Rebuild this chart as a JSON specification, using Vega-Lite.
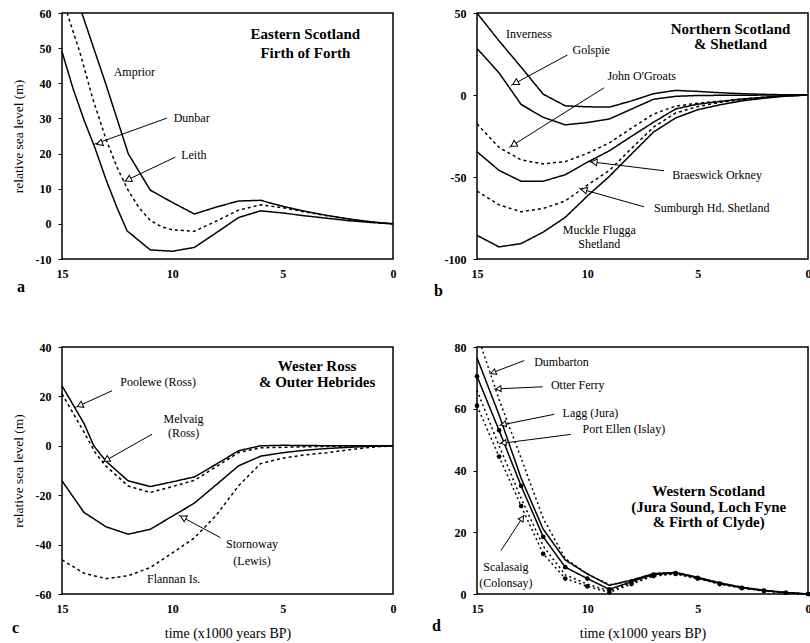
{
  "$schema": "https://vega.github.io/schema/vega-lite/v6.json",
  "padding": {"left": 10, "top": 6, "right": 0, "bottom": 0},
  "background": "white",
  "config": {
    "font": "Liberation Serif",
    "view": {"stroke": "black", "strokeWidth": 1.5},
    "axis": {"grid": false, "domain": false, "labelFont": "Liberation Serif", "labelFontWeight": "bold", "labelFontSize": 12, "labelColor": "black", "tickColor": "black", "labelFlush": false, "labelOverlap": false, "labelBound": false, "titleFont": "Liberation Serif", "titleFontWeight": "normal", "titleFontSize": 14, "titleColor": "black"},
    "axisX": {"ticks": false, "labelPadding": 9, "titlePadding": 12},
    "axisY": {"tickSize": 4, "labelPadding": 7, "titlePadding": 10, "titleFontSize": 13.5},
    "line": {"color": "black", "strokeWidth": 1.5},
    "rule": {"color": "black", "strokeWidth": 1.2},
    "text": {"font": "Liberation Serif", "fontSize": 12, "color": "black"},
    "title": {"font": "Liberation Serif", "fontSize": 16, "fontWeight": "bold", "color": "black"}
  },
  "resolve": {"scale": {"strokeDash": "independent", "x": "independent", "y": "independent"}},
  "datasets": {
    "a_lines": [
      {"site": "Amprior", "t": 14.1, "v": 60}, {"site": "Amprior", "t": 13, "v": 39.5}, {"site": "Amprior", "t": 12, "v": 20}, {"site": "Amprior", "t": 11, "v": 9.6}, {"site": "Amprior", "t": 10, "v": 6.1}, {"site": "Amprior", "t": 9, "v": 2.8}, {"site": "Amprior", "t": 8, "v": 4.8}, {"site": "Amprior", "t": 7, "v": 6.5}, {"site": "Amprior", "t": 6, "v": 6.7}, {"site": "Amprior", "t": 5, "v": 5}, {"site": "Amprior", "t": 4, "v": 3.6}, {"site": "Amprior", "t": 3, "v": 2.4}, {"site": "Amprior", "t": 2, "v": 1.4}, {"site": "Amprior", "t": 1, "v": 0.6}, {"site": "Amprior", "t": 0, "v": 0},
      {"site": "Dunbar", "t": 14.77, "v": 60}, {"site": "Dunbar", "t": 14.2, "v": 49}, {"site": "Dunbar", "t": 13.6, "v": 35.5}, {"site": "Dunbar", "t": 13, "v": 24}, {"site": "Dunbar", "t": 12.5, "v": 16}, {"site": "Dunbar", "t": 12, "v": 9.5}, {"site": "Dunbar", "t": 11.5, "v": 4.5}, {"site": "Dunbar", "t": 11, "v": 1}, {"site": "Dunbar", "t": 10.5, "v": -0.8}, {"site": "Dunbar", "t": 10, "v": -1.7}, {"site": "Dunbar", "t": 9, "v": -2.1}, {"site": "Dunbar", "t": 8, "v": 0.8}, {"site": "Dunbar", "t": 7, "v": 3.9}, {"site": "Dunbar", "t": 6, "v": 5.4}, {"site": "Dunbar", "t": 5, "v": 4.6}, {"site": "Dunbar", "t": 4, "v": 3.4}, {"site": "Dunbar", "t": 3, "v": 2.3}, {"site": "Dunbar", "t": 2, "v": 1.3}, {"site": "Dunbar", "t": 1, "v": 0.5}, {"site": "Dunbar", "t": 0, "v": 0},
      {"site": "Leith", "t": 15, "v": 49}, {"site": "Leith", "t": 14.5, "v": 38.5}, {"site": "Leith", "t": 14, "v": 29.5}, {"site": "Leith", "t": 13.5, "v": 21.5}, {"site": "Leith", "t": 13, "v": 12.5}, {"site": "Leith", "t": 12.5, "v": 4.5}, {"site": "Leith", "t": 12.05, "v": -2}, {"site": "Leith", "t": 11, "v": -7.4}, {"site": "Leith", "t": 10, "v": -7.8}, {"site": "Leith", "t": 9, "v": -6.7}, {"site": "Leith", "t": 8, "v": -2.5}, {"site": "Leith", "t": 7, "v": 1.8}, {"site": "Leith", "t": 6, "v": 3.7}, {"site": "Leith", "t": 5, "v": 3.1}, {"site": "Leith", "t": 4, "v": 2.3}, {"site": "Leith", "t": 3, "v": 1.6}, {"site": "Leith", "t": 2, "v": 0.9}, {"site": "Leith", "t": 1, "v": 0.4}, {"site": "Leith", "t": 0, "v": 0}
    ],
    "a_arrows": [
      {"t": 10.24, "v": 30.1, "t2": 13.56, "v2": 22.6},
      {"t": 9.86, "v": 19.0, "t2": 12.21, "v2": 12.0}
    ],
    "a_heads": [
      {"t": 13.26, "v": 23.0, "ang": 250},
      {"t": 11.96, "v": 12.7, "ang": 244}
    ],
    "a_notes": [
      {"role": "left", "label": "Amprior", "t": 12.66, "v": 43.3},
      {"role": "left", "label": "Dunbar", "t": 9.94, "v": 30.1},
      {"role": "left", "label": "Leith", "t": 9.6, "v": 19.7},
      {"role": "title", "label": "Eastern Scotland", "t": 3.97, "v": 53.9},
      {"role": "title", "label": "Firth of Forth", "t": 3.97, "v": 48.7}
    ],
    "b_lines": [
      {"site": "Inverness", "t": 15, "v": 50}, {"site": "Inverness", "t": 14, "v": 33}, {"site": "Inverness", "t": 13, "v": 17}, {"site": "Inverness", "t": 12, "v": 0.5}, {"site": "Inverness", "t": 11, "v": -6.6}, {"site": "Inverness", "t": 10, "v": -7.2}, {"site": "Inverness", "t": 9, "v": -7.4}, {"site": "Inverness", "t": 8, "v": -3.6}, {"site": "Inverness", "t": 7, "v": 0.8}, {"site": "Inverness", "t": 6, "v": 2.8}, {"site": "Inverness", "t": 5, "v": 2.2}, {"site": "Inverness", "t": 4, "v": 1.4}, {"site": "Inverness", "t": 3, "v": 0.8}, {"site": "Inverness", "t": 2, "v": 0.4}, {"site": "Inverness", "t": 1, "v": 0.1}, {"site": "Inverness", "t": 0, "v": 0},
      {"site": "Golspie", "t": 15, "v": 28.4}, {"site": "Golspie", "t": 14, "v": 13.5}, {"site": "Golspie", "t": 13, "v": -5.8}, {"site": "Golspie", "t": 12, "v": -13.6}, {"site": "Golspie", "t": 11, "v": -18.2}, {"site": "Golspie", "t": 10, "v": -16.8}, {"site": "Golspie", "t": 9, "v": -14.6}, {"site": "Golspie", "t": 8, "v": -8.6}, {"site": "Golspie", "t": 7, "v": -2.6}, {"site": "Golspie", "t": 6, "v": -0.8}, {"site": "Golspie", "t": 5, "v": -0.3}, {"site": "Golspie", "t": 3, "v": -0.1}, {"site": "Golspie", "t": 0, "v": 0},
      {"site": "John O'Groats", "t": 15, "v": -17.6}, {"site": "John O'Groats", "t": 14, "v": -32}, {"site": "John O'Groats", "t": 13, "v": -39.6}, {"site": "John O'Groats", "t": 12, "v": -42}, {"site": "John O'Groats", "t": 11, "v": -40.6}, {"site": "John O'Groats", "t": 10, "v": -35.6}, {"site": "John O'Groats", "t": 9, "v": -29.2}, {"site": "John O'Groats", "t": 8, "v": -20.2}, {"site": "John O'Groats", "t": 7, "v": -11.6}, {"site": "John O'Groats", "t": 6, "v": -6.8}, {"site": "John O'Groats", "t": 5, "v": -5}, {"site": "John O'Groats", "t": 4, "v": -3.8}, {"site": "John O'Groats", "t": 3, "v": -2.5}, {"site": "John O'Groats", "t": 2, "v": -1.4}, {"site": "John O'Groats", "t": 1, "v": -0.5}, {"site": "John O'Groats", "t": 0, "v": 0},
      {"site": "Braeswick Orkney", "t": 15, "v": -34.6}, {"site": "Braeswick Orkney", "t": 14, "v": -46}, {"site": "Braeswick Orkney", "t": 13, "v": -52.6}, {"site": "Braeswick Orkney", "t": 12, "v": -52.6}, {"site": "Braeswick Orkney", "t": 11, "v": -48.6}, {"site": "Braeswick Orkney", "t": 10, "v": -41}, {"site": "Braeswick Orkney", "t": 9, "v": -34}, {"site": "Braeswick Orkney", "t": 8, "v": -25.2}, {"site": "Braeswick Orkney", "t": 7, "v": -16.6}, {"site": "Braeswick Orkney", "t": 6, "v": -8.5}, {"site": "Braeswick Orkney", "t": 5, "v": -5.6}, {"site": "Braeswick Orkney", "t": 4, "v": -4}, {"site": "Braeswick Orkney", "t": 3, "v": -2.5}, {"site": "Braeswick Orkney", "t": 2, "v": -1.4}, {"site": "Braeswick Orkney", "t": 1, "v": -0.5}, {"site": "Braeswick Orkney", "t": 0, "v": 0},
      {"site": "Sumburgh Hd. Shetland", "t": 15, "v": -58.6}, {"site": "Sumburgh Hd. Shetland", "t": 14, "v": -67}, {"site": "Sumburgh Hd. Shetland", "t": 13, "v": -71.2}, {"site": "Sumburgh Hd. Shetland", "t": 12, "v": -69.2}, {"site": "Sumburgh Hd. Shetland", "t": 11, "v": -64.6}, {"site": "Sumburgh Hd. Shetland", "t": 10, "v": -55}, {"site": "Sumburgh Hd. Shetland", "t": 9, "v": -46}, {"site": "Sumburgh Hd. Shetland", "t": 8, "v": -32.6}, {"site": "Sumburgh Hd. Shetland", "t": 7, "v": -19.6}, {"site": "Sumburgh Hd. Shetland", "t": 6, "v": -11}, {"site": "Sumburgh Hd. Shetland", "t": 5, "v": -7}, {"site": "Sumburgh Hd. Shetland", "t": 4, "v": -4.6}, {"site": "Sumburgh Hd. Shetland", "t": 3, "v": -2.8}, {"site": "Sumburgh Hd. Shetland", "t": 2, "v": -1.5}, {"site": "Sumburgh Hd. Shetland", "t": 1, "v": -0.5}, {"site": "Sumburgh Hd. Shetland", "t": 0, "v": 0},
      {"site": "Muckle Flugga Shetland", "t": 15, "v": -85.6}, {"site": "Muckle Flugga Shetland", "t": 14, "v": -92.6}, {"site": "Muckle Flugga Shetland", "t": 13, "v": -90.6}, {"site": "Muckle Flugga Shetland", "t": 12, "v": -83.6}, {"site": "Muckle Flugga Shetland", "t": 11, "v": -74.6}, {"site": "Muckle Flugga Shetland", "t": 10, "v": -61.6}, {"site": "Muckle Flugga Shetland", "t": 9, "v": -49.6}, {"site": "Muckle Flugga Shetland", "t": 8, "v": -36}, {"site": "Muckle Flugga Shetland", "t": 7, "v": -22.6}, {"site": "Muckle Flugga Shetland", "t": 6, "v": -14}, {"site": "Muckle Flugga Shetland", "t": 5, "v": -9}, {"site": "Muckle Flugga Shetland", "t": 4, "v": -6}, {"site": "Muckle Flugga Shetland", "t": 3, "v": -3.6}, {"site": "Muckle Flugga Shetland", "t": 2, "v": -2}, {"site": "Muckle Flugga Shetland", "t": 1, "v": -0.7}, {"site": "Muckle Flugga Shetland", "t": 0, "v": 0}
    ],
    "b_arrows": [
      {"t": 10.9, "v": 24.4, "t2": 13.46, "v2": 5.8},
      {"t": 9.24, "v": 4.4, "t2": 13.54, "v2": -32},
      {"t": 6.52, "v": -46.2, "t2": 9.92, "v2": -40.6},
      {"t": 7.43, "v": -68.2, "t2": 10.37, "v2": -57}
    ],
    "b_heads": [
      {"t": 13.22, "v": 7.6, "ang": 241},
      {"t": 13.31, "v": -30, "ang": 237},
      {"t": 9.65, "v": -41, "ang": 277},
      {"t": 10.11, "v": -58, "ang": 286}
    ],
    "b_notes": [
      {"role": "left", "label": "Inverness", "t": 13.69, "v": 37.4},
      {"role": "left", "label": "Golspie", "t": 10.67, "v": 27.4},
      {"role": "left", "label": "John O'Groats", "t": 9.09, "v": 11.4},
      {"role": "left", "label": "Braeswick Orkney", "t": 6.15, "v": -48.6},
      {"role": "left", "label": "Sumburgh Hd. Shetland", "t": 6.98, "v": -69},
      {"role": "center", "label": "Muckle Flugga", "t": 9.46, "v": -82.6},
      {"role": "center", "label": "Shetland", "t": 9.46, "v": -91},
      {"role": "title", "label": "Northern Scotland", "t": 3.51, "v": 40.4},
      {"role": "title", "label": "& Shetland", "t": 3.51, "v": 31.4}
    ],
    "c_lines": [
      {"site": "Poolewe (Ross)", "t": 15, "v": 24.3}, {"site": "Poolewe (Ross)", "t": 14, "v": 9}, {"site": "Poolewe (Ross)", "t": 13.56, "v": 0}, {"site": "Poolewe (Ross)", "t": 13, "v": -6.3}, {"site": "Poolewe (Ross)", "t": 12, "v": -14.2}, {"site": "Poolewe (Ross)", "t": 11, "v": -16.5}, {"site": "Poolewe (Ross)", "t": 10, "v": -14.6}, {"site": "Poolewe (Ross)", "t": 9, "v": -12.6}, {"site": "Poolewe (Ross)", "t": 8, "v": -7.4}, {"site": "Poolewe (Ross)", "t": 7, "v": -2}, {"site": "Poolewe (Ross)", "t": 6, "v": 0}, {"site": "Poolewe (Ross)", "t": 5, "v": 0.2}, {"site": "Poolewe (Ross)", "t": 4, "v": 0.1}, {"site": "Poolewe (Ross)", "t": 2, "v": 0}, {"site": "Poolewe (Ross)", "t": 0, "v": 0},
      {"site": "Melvaig (Ross)", "t": 15, "v": 21}, {"site": "Melvaig (Ross)", "t": 14, "v": 5.5}, {"site": "Melvaig (Ross)", "t": 13.5, "v": -2.7}, {"site": "Melvaig (Ross)", "t": 13, "v": -8.3}, {"site": "Melvaig (Ross)", "t": 12, "v": -16.3}, {"site": "Melvaig (Ross)", "t": 11, "v": -18.9}, {"site": "Melvaig (Ross)", "t": 10, "v": -16.5}, {"site": "Melvaig (Ross)", "t": 9, "v": -14}, {"site": "Melvaig (Ross)", "t": 8, "v": -8.4}, {"site": "Melvaig (Ross)", "t": 7, "v": -2.7}, {"site": "Melvaig (Ross)", "t": 6, "v": -0.8}, {"site": "Melvaig (Ross)", "t": 4, "v": -0.4}, {"site": "Melvaig (Ross)", "t": 2, "v": -0.1}, {"site": "Melvaig (Ross)", "t": 0, "v": 0},
      {"site": "Stornoway (Lewis)", "t": 15, "v": -14.2}, {"site": "Stornoway (Lewis)", "t": 14, "v": -27}, {"site": "Stornoway (Lewis)", "t": 13, "v": -32.8}, {"site": "Stornoway (Lewis)", "t": 12, "v": -35.8}, {"site": "Stornoway (Lewis)", "t": 11, "v": -33.8}, {"site": "Stornoway (Lewis)", "t": 10, "v": -28.5}, {"site": "Stornoway (Lewis)", "t": 9, "v": -23.2}, {"site": "Stornoway (Lewis)", "t": 8, "v": -15.7}, {"site": "Stornoway (Lewis)", "t": 7, "v": -8.1}, {"site": "Stornoway (Lewis)", "t": 6, "v": -4.2}, {"site": "Stornoway (Lewis)", "t": 5, "v": -2.8}, {"site": "Stornoway (Lewis)", "t": 4, "v": -1.8}, {"site": "Stornoway (Lewis)", "t": 3, "v": -1.1}, {"site": "Stornoway (Lewis)", "t": 2, "v": -0.6}, {"site": "Stornoway (Lewis)", "t": 1, "v": -0.2}, {"site": "Stornoway (Lewis)", "t": 0, "v": 0},
      {"site": "Flannan Is.", "t": 15, "v": -46.2}, {"site": "Flannan Is.", "t": 14, "v": -51.6}, {"site": "Flannan Is.", "t": 13, "v": -53.8}, {"site": "Flannan Is.", "t": 12, "v": -52.6}, {"site": "Flannan Is.", "t": 11, "v": -49.3}, {"site": "Flannan Is.", "t": 10, "v": -43.4}, {"site": "Flannan Is.", "t": 9, "v": -37.3}, {"site": "Flannan Is.", "t": 8, "v": -28}, {"site": "Flannan Is.", "t": 7, "v": -16.2}, {"site": "Flannan Is.", "t": 6, "v": -7.2}, {"site": "Flannan Is.", "t": 5, "v": -5}, {"site": "Flannan Is.", "t": 4, "v": -3.7}, {"site": "Flannan Is.", "t": 3, "v": -2.8}, {"site": "Flannan Is.", "t": 2, "v": -1.6}, {"site": "Flannan Is.", "t": 1, "v": -0.6}, {"site": "Flannan Is.", "t": 0, "v": 0}
    ],
    "c_arrows": [
      {"t": 12.73, "v": 22.3, "t2": 14.4, "v2": 15.5},
      {"t": 10.92, "v": 4.7, "t2": 13.19, "v2": -6.8},
      {"t": 7.82, "v": -37.2, "t2": 9.71, "v2": -28.1}
    ],
    "c_heads": [
      {"t": 14.15, "v": 16.5, "ang": 246},
      {"t": 12.95, "v": -5.5, "ang": 240},
      {"t": 9.47, "v": -29.2, "ang": 298}
    ],
    "c_notes": [
      {"role": "left", "label": "Poolewe (Ross)", "t": 12.36, "v": 25.7},
      {"role": "center", "label": "Melvaig", "t": 9.49, "v": 10.8},
      {"role": "center", "label": "(Ross)", "t": 9.49, "v": 5.1},
      {"role": "center", "label": "Stornoway", "t": 6.39, "v": -39.9},
      {"role": "center", "label": "(Lewis)", "t": 6.39, "v": -46.6},
      {"role": "center", "label": "Flannan Is.", "t": 9.94, "v": -54.1},
      {"role": "title", "label": "Wester Ross", "t": 3.44, "v": 32.4},
      {"role": "title", "label": "& Outer Hebrides", "t": 3.44, "v": 25.7}
    ],
    "d_lines": [
      {"site": "Dumbarton", "t": 14.8, "v": 80}, {"site": "Dumbarton", "t": 14, "v": 63}, {"site": "Dumbarton", "t": 13, "v": 44}, {"site": "Dumbarton", "t": 12, "v": 24.5}, {"site": "Dumbarton", "t": 11, "v": 11.5}, {"site": "Dumbarton", "t": 10, "v": 6.5}, {"site": "Dumbarton", "t": 9, "v": 3}, {"site": "Dumbarton", "t": 8, "v": 4.3}, {"site": "Dumbarton", "t": 7, "v": 6.6}, {"site": "Dumbarton", "t": 6, "v": 6.9}, {"site": "Dumbarton", "t": 5, "v": 5.4}, {"site": "Dumbarton", "t": 4, "v": 3.6}, {"site": "Dumbarton", "t": 3, "v": 2.2}, {"site": "Dumbarton", "t": 2, "v": 1.2}, {"site": "Dumbarton", "t": 1, "v": 0.5}, {"site": "Dumbarton", "t": 0, "v": 0},
      {"site": "Otter Ferry", "t": 15, "v": 76.5}, {"site": "Otter Ferry", "t": 14, "v": 58}, {"site": "Otter Ferry", "t": 13, "v": 37.5}, {"site": "Otter Ferry", "t": 12, "v": 21}, {"site": "Otter Ferry", "t": 11, "v": 11}, {"site": "Otter Ferry", "t": 10, "v": 6.5}, {"site": "Otter Ferry", "t": 9, "v": 2.8}, {"site": "Otter Ferry", "t": 8, "v": 4.5}, {"site": "Otter Ferry", "t": 7, "v": 6.6}, {"site": "Otter Ferry", "t": 6, "v": 7}, {"site": "Otter Ferry", "t": 5, "v": 5.4}, {"site": "Otter Ferry", "t": 4, "v": 3.6}, {"site": "Otter Ferry", "t": 3, "v": 2.2}, {"site": "Otter Ferry", "t": 2, "v": 1.2}, {"site": "Otter Ferry", "t": 1, "v": 0.5}, {"site": "Otter Ferry", "t": 0, "v": 0},
      {"site": "Lagg (Jura)", "t": 15, "v": 70.5}, {"site": "Lagg (Jura)", "t": 14, "v": 53}, {"site": "Lagg (Jura)", "t": 13, "v": 35}, {"site": "Lagg (Jura)", "t": 12, "v": 18.5}, {"site": "Lagg (Jura)", "t": 11, "v": 8.7}, {"site": "Lagg (Jura)", "t": 10, "v": 5}, {"site": "Lagg (Jura)", "t": 9, "v": 1.5}, {"site": "Lagg (Jura)", "t": 8, "v": 4}, {"site": "Lagg (Jura)", "t": 7, "v": 6.3}, {"site": "Lagg (Jura)", "t": 6, "v": 6.8}, {"site": "Lagg (Jura)", "t": 5, "v": 5.2}, {"site": "Lagg (Jura)", "t": 4, "v": 3.4}, {"site": "Lagg (Jura)", "t": 3, "v": 2}, {"site": "Lagg (Jura)", "t": 2, "v": 1.1}, {"site": "Lagg (Jura)", "t": 1, "v": 0.4}, {"site": "Lagg (Jura)", "t": 0, "v": 0},
      {"site": "Port Ellen (Islay)", "t": 15, "v": 66}, {"site": "Port Ellen (Islay)", "t": 14, "v": 48}, {"site": "Port Ellen (Islay)", "t": 13, "v": 31}, {"site": "Port Ellen (Islay)", "t": 12, "v": 15.5}, {"site": "Port Ellen (Islay)", "t": 11, "v": 6.2}, {"site": "Port Ellen (Islay)", "t": 10, "v": 3.2}, {"site": "Port Ellen (Islay)", "t": 9, "v": 1}, {"site": "Port Ellen (Islay)", "t": 8, "v": 3.6}, {"site": "Port Ellen (Islay)", "t": 7, "v": 6}, {"site": "Port Ellen (Islay)", "t": 6, "v": 6.6}, {"site": "Port Ellen (Islay)", "t": 5, "v": 5}, {"site": "Port Ellen (Islay)", "t": 4, "v": 3.3}, {"site": "Port Ellen (Islay)", "t": 3, "v": 2}, {"site": "Port Ellen (Islay)", "t": 2, "v": 1}, {"site": "Port Ellen (Islay)", "t": 1, "v": 0.4}, {"site": "Port Ellen (Islay)", "t": 0, "v": 0},
      {"site": "Scalasaig (Colonsay)", "t": 15, "v": 61}, {"site": "Scalasaig (Colonsay)", "t": 14, "v": 44.5}, {"site": "Scalasaig (Colonsay)", "t": 13, "v": 28.5}, {"site": "Scalasaig (Colonsay)", "t": 12, "v": 13}, {"site": "Scalasaig (Colonsay)", "t": 11, "v": 5}, {"site": "Scalasaig (Colonsay)", "t": 10, "v": 2.5}, {"site": "Scalasaig (Colonsay)", "t": 9, "v": 0.5}, {"site": "Scalasaig (Colonsay)", "t": 8, "v": 3.2}, {"site": "Scalasaig (Colonsay)", "t": 7, "v": 5.8}, {"site": "Scalasaig (Colonsay)", "t": 6, "v": 6.5}, {"site": "Scalasaig (Colonsay)", "t": 5, "v": 5}, {"site": "Scalasaig (Colonsay)", "t": 4, "v": 3.2}, {"site": "Scalasaig (Colonsay)", "t": 3, "v": 1.9}, {"site": "Scalasaig (Colonsay)", "t": 2, "v": 1}, {"site": "Scalasaig (Colonsay)", "t": 1, "v": 0.4}, {"site": "Scalasaig (Colonsay)", "t": 0, "v": 0}
    ],
    "d_arrows": [
      {"t": 12.86, "v": 75.6, "t2": 14.44, "v2": 71.3},
      {"t": 12.03, "v": 67.1, "t2": 14.22, "v2": 66.4},
      {"t": 11.5, "v": 58.2, "t2": 13.99, "v2": 54.6},
      {"t": 10.75, "v": 51.7, "t2": 13.99, "v2": 48.7},
      {"t": 13.91, "v": 14.1, "t2": 12.86, "v2": 25.6}
    ],
    "d_heads": [
      {"t": 14.23, "v": 71.8, "ang": 249},
      {"t": 13.99, "v": 66.5, "ang": 267},
      {"t": 13.76, "v": 55.0, "ang": 259},
      {"t": 13.76, "v": 49.0, "ang": 263},
      {"t": 12.98, "v": 24.3, "ang": 34}
    ],
    "d_notes": [
      {"role": "left", "label": "Dumbarton", "t": 12.41, "v": 75.1},
      {"role": "left", "label": "Otter Ferry", "t": 11.65, "v": 67.8},
      {"role": "left", "label": "Lagg (Jura)", "t": 11.12, "v": 58.5},
      {"role": "left", "label": "Port Ellen (Islay)", "t": 10.22, "v": 53.6},
      {"role": "center", "label": "Scalasaig", "t": 13.69, "v": 8.7},
      {"role": "center", "label": "(Colonsay)", "t": 13.69, "v": 3.6},
      {"role": "title", "label": "Western Scotland", "t": 4.5, "v": 33.4},
      {"role": "title", "label": "(Jura Sound, Loch Fyne", "t": 4.5, "v": 28.3},
      {"role": "title", "label": "& Firth of Clyde)", "t": 4.5, "v": 23.2}
    ]
  },
  "columns": 2,
  "spacing": {"row": 88, "column": 84},
  "bounds": "flush",
  "concat": [
    {
      "width": 331, "height": 246,
      "title": {"text": "a", "orient": "bottom", "anchor": "start", "frame": "group", "dx": -45, "offset": 0},
      "layer": [
        {"data": {"name": "a_lines"}, "mark": {"type": "line"},
         "encoding": {
           "x": {"field": "t", "type": "quantitative", "scale": {"domain": [0, 15], "reverse": true, "nice": false, "zero": false}, "axis": {"values": [0, 5, 10, 15], "tickCount": 20, "title": null}},
           "y": {"field": "v", "type": "quantitative", "scale": {"domain": [-10, 60], "nice": false, "zero": false}, "axis": {"values": [-10, 0, 10, 20, 30, 40, 50, 60], "tickCount": 20, "title": "relative sea level (m)", "labelExpr": "'' + datum.value"}},
           "detail": {"field": "site"},
           "strokeDash": {"field": "site", "type": "nominal", "scale": {"domain": ["Amprior", "Dunbar", "Leith"], "range": [[1, 0], [3, 3], [1, 0]]}, "legend": null}
         }},
        {"mark": {"type": "rule"}, "encoding": {"x": {"datum": 15, "type": "quantitative"}, "x2": {"datum": 0}, "y": {"datum": 0, "type": "quantitative"}}},
        {"data": {"name": "a_arrows"}, "mark": {"type": "rule", "strokeWidth": 1}, "encoding": {"x": {"field": "t", "type": "quantitative"}, "y": {"field": "v", "type": "quantitative"}, "x2": {"field": "t2"}, "y2": {"field": "v2"}}},
        {"data": {"name": "a_heads"}, "mark": {"type": "point", "shape": "triangle", "filled": true, "fill": "white", "stroke": "black", "strokeWidth": 1, "size": 45, "opacity": 1}, "encoding": {"x": {"field": "t", "type": "quantitative"}, "y": {"field": "v", "type": "quantitative"}, "angle": {"field": "ang", "type": "quantitative", "scale": null}}},
        {"data": {"name": "a_notes"}, "transform": [{"filter": "datum.role == 'left'"}], "mark": {"type": "text", "align": "left", "baseline": "middle"}, "encoding": {"x": {"field": "t", "type": "quantitative"}, "y": {"field": "v", "type": "quantitative"}, "text": {"field": "label"}}},
        {"data": {"name": "a_notes"}, "transform": [{"filter": "datum.role == 'title'"}], "mark": {"type": "text", "align": "center", "baseline": "middle", "fontWeight": "bold", "fontSize": 15}, "encoding": {"x": {"field": "t", "type": "quantitative"}, "y": {"field": "v", "type": "quantitative"}, "text": {"field": "label"}}}
      ]
    },
    {
      "width": 331, "height": 246,
      "title": {"text": "b", "orient": "bottom", "anchor": "start", "frame": "group", "dx": -43, "offset": 4},
      "layer": [
        {"data": {"name": "b_lines"}, "mark": {"type": "line"},
         "encoding": {
           "x": {"field": "t", "type": "quantitative", "scale": {"domain": [0, 15], "reverse": true, "nice": false, "zero": false}, "axis": {"values": [0, 5, 10, 15], "tickCount": 20, "title": null}},
           "y": {"field": "v", "type": "quantitative", "scale": {"domain": [-100, 50], "nice": false, "zero": false}, "axis": {"values": [-100, -50, 0, 50], "tickCount": 20, "title": null, "labelExpr": "'' + datum.value"}},
           "detail": {"field": "site"},
           "strokeDash": {"field": "site", "type": "nominal", "scale": {"domain": ["Inverness", "Golspie", "John O'Groats", "Braeswick Orkney", "Sumburgh Hd. Shetland", "Muckle Flugga Shetland"], "range": [[1, 0], [1, 0], [3, 3], [1, 0], [3, 3], [1, 0]]}, "legend": null}
         }},
        {"mark": {"type": "rule"}, "encoding": {"x": {"datum": 15, "type": "quantitative"}, "x2": {"datum": 0}, "y": {"datum": 0, "type": "quantitative"}}},
        {"data": {"name": "b_arrows"}, "mark": {"type": "rule", "strokeWidth": 1}, "encoding": {"x": {"field": "t", "type": "quantitative"}, "y": {"field": "v", "type": "quantitative"}, "x2": {"field": "t2"}, "y2": {"field": "v2"}}},
        {"data": {"name": "b_heads"}, "mark": {"type": "point", "shape": "triangle", "filled": true, "fill": "white", "stroke": "black", "strokeWidth": 1, "size": 45, "opacity": 1}, "encoding": {"x": {"field": "t", "type": "quantitative"}, "y": {"field": "v", "type": "quantitative"}, "angle": {"field": "ang", "type": "quantitative", "scale": null}}},
        {"data": {"name": "b_notes"}, "transform": [{"filter": "datum.role == 'left'"}], "mark": {"type": "text", "align": "left", "baseline": "middle"}, "encoding": {"x": {"field": "t", "type": "quantitative"}, "y": {"field": "v", "type": "quantitative"}, "text": {"field": "label"}}},
        {"data": {"name": "b_notes"}, "transform": [{"filter": "datum.role == 'center'"}], "mark": {"type": "text", "align": "center", "baseline": "middle"}, "encoding": {"x": {"field": "t", "type": "quantitative"}, "y": {"field": "v", "type": "quantitative"}, "text": {"field": "label"}}},
        {"data": {"name": "b_notes"}, "transform": [{"filter": "datum.role == 'title'"}], "mark": {"type": "text", "align": "center", "baseline": "middle", "fontWeight": "bold", "fontSize": 15}, "encoding": {"x": {"field": "t", "type": "quantitative"}, "y": {"field": "v", "type": "quantitative"}, "text": {"field": "label"}}}
      ]
    },
    {
      "width": 331, "height": 247,
      "title": {"text": "c", "orient": "bottom", "anchor": "start", "frame": "group", "dx": -50, "offset": -20},
      "layer": [
        {"data": {"name": "c_lines"}, "mark": {"type": "line"},
         "encoding": {
           "x": {"field": "t", "type": "quantitative", "scale": {"domain": [0, 15], "reverse": true, "nice": false, "zero": false}, "axis": {"values": [0, 5, 10, 15], "tickCount": 20, "title": "time (x1000 years BP)"}},
           "y": {"field": "v", "type": "quantitative", "scale": {"domain": [-60, 40], "nice": false, "zero": false}, "axis": {"values": [-60, -40, -20, 0, 20, 40], "tickCount": 20, "title": "relative sea level (m)", "labelExpr": "'' + datum.value"}},
           "detail": {"field": "site"},
           "strokeDash": {"field": "site", "type": "nominal", "scale": {"domain": ["Poolewe (Ross)", "Melvaig (Ross)", "Stornoway (Lewis)", "Flannan Is."], "range": [[1, 0], [3, 3], [1, 0], [3, 3]]}, "legend": null}
         }},
        {"mark": {"type": "rule"}, "encoding": {"x": {"datum": 15, "type": "quantitative"}, "x2": {"datum": 7}, "y": {"datum": 0, "type": "quantitative"}}},
        {"data": {"name": "c_arrows"}, "mark": {"type": "rule", "strokeWidth": 1}, "encoding": {"x": {"field": "t", "type": "quantitative"}, "y": {"field": "v", "type": "quantitative"}, "x2": {"field": "t2"}, "y2": {"field": "v2"}}},
        {"data": {"name": "c_heads"}, "mark": {"type": "point", "shape": "triangle", "filled": true, "fill": "white", "stroke": "black", "strokeWidth": 1, "size": 45, "opacity": 1}, "encoding": {"x": {"field": "t", "type": "quantitative"}, "y": {"field": "v", "type": "quantitative"}, "angle": {"field": "ang", "type": "quantitative", "scale": null}}},
        {"data": {"name": "c_notes"}, "transform": [{"filter": "datum.role == 'left'"}], "mark": {"type": "text", "align": "left", "baseline": "middle"}, "encoding": {"x": {"field": "t", "type": "quantitative"}, "y": {"field": "v", "type": "quantitative"}, "text": {"field": "label"}}},
        {"data": {"name": "c_notes"}, "transform": [{"filter": "datum.role == 'center'"}], "mark": {"type": "text", "align": "center", "baseline": "middle"}, "encoding": {"x": {"field": "t", "type": "quantitative"}, "y": {"field": "v", "type": "quantitative"}, "text": {"field": "label"}}},
        {"data": {"name": "c_notes"}, "transform": [{"filter": "datum.role == 'title'"}], "mark": {"type": "text", "align": "center", "baseline": "middle", "fontWeight": "bold", "fontSize": 15}, "encoding": {"x": {"field": "t", "type": "quantitative"}, "y": {"field": "v", "type": "quantitative"}, "text": {"field": "label"}}}
      ]
    },
    {
      "width": 331, "height": 247,
      "title": {"text": "d", "orient": "bottom", "anchor": "start", "frame": "group", "dx": -45, "offset": -22},
      "layer": [
        {"data": {"name": "d_lines"}, "mark": {"type": "line"},
         "encoding": {
           "x": {"field": "t", "type": "quantitative", "scale": {"domain": [0, 15], "reverse": true, "nice": false, "zero": false}, "axis": {"values": [0, 5, 10, 15], "tickCount": 20, "title": "time (x1000 years BP)"}},
           "y": {"field": "v", "type": "quantitative", "scale": {"domain": [0, 80], "nice": false, "zero": false}, "axis": {"values": [0, 20, 40, 60, 80], "tickCount": 20, "title": null, "labelExpr": "'' + datum.value"}},
           "detail": {"field": "site"},
           "strokeDash": {"field": "site", "type": "nominal", "scale": {"domain": ["Dumbarton", "Otter Ferry", "Lagg (Jura)", "Port Ellen (Islay)", "Scalasaig (Colonsay)"], "range": [[2, 3], [1, 0], [1, 0], [2, 3], [2, 3]]}, "legend": null}
         }},
        {"data": {"name": "d_lines"}, "transform": [{"filter": "datum.site == 'Lagg (Jura)' || datum.site == 'Scalasaig (Colonsay)'"}], "mark": {"type": "point", "filled": true, "color": "black", "size": 22, "opacity": 1}, "encoding": {"x": {"field": "t", "type": "quantitative"}, "y": {"field": "v", "type": "quantitative"}}},
        {"data": {"name": "d_arrows"}, "mark": {"type": "rule", "strokeWidth": 1}, "encoding": {"x": {"field": "t", "type": "quantitative"}, "y": {"field": "v", "type": "quantitative"}, "x2": {"field": "t2"}, "y2": {"field": "v2"}}},
        {"data": {"name": "d_heads"}, "mark": {"type": "point", "shape": "triangle", "filled": true, "fill": "white", "stroke": "black", "strokeWidth": 1, "size": 35, "opacity": 1}, "encoding": {"x": {"field": "t", "type": "quantitative"}, "y": {"field": "v", "type": "quantitative"}, "angle": {"field": "ang", "type": "quantitative", "scale": null}}},
        {"data": {"name": "d_notes"}, "transform": [{"filter": "datum.role == 'left'"}], "mark": {"type": "text", "align": "left", "baseline": "middle"}, "encoding": {"x": {"field": "t", "type": "quantitative"}, "y": {"field": "v", "type": "quantitative"}, "text": {"field": "label"}}},
        {"data": {"name": "d_notes"}, "transform": [{"filter": "datum.role == 'center'"}], "mark": {"type": "text", "align": "center", "baseline": "middle"}, "encoding": {"x": {"field": "t", "type": "quantitative"}, "y": {"field": "v", "type": "quantitative"}, "text": {"field": "label"}}},
        {"data": {"name": "d_notes"}, "transform": [{"filter": "datum.role == 'title'"}], "mark": {"type": "text", "align": "center", "baseline": "middle", "fontWeight": "bold", "fontSize": 15}, "encoding": {"x": {"field": "t", "type": "quantitative"}, "y": {"field": "v", "type": "quantitative"}, "text": {"field": "label"}}}
      ]
    }
  ]
}
